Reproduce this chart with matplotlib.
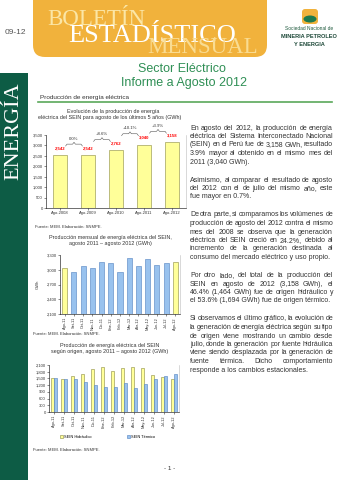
import matplotlib
matplotlib.use("Agg")
import matplotlib.pyplot as plt
from matplotlib.patches import FancyBboxPatch, Rectangle, Ellipse
from matplotlib.ticker import FuncFormatter, MultipleLocator

W, H = 339, 480
plt.rcParams['font.family'] = ['Liberation Sans', 'DejaVu Sans']

# --- datos ---
anios = ["Ago-2008", "Ago-2009", "Ago-2010", "Ago-2011", "Ago-2012"]
prod_agosto = [2542, 2542, 2762, 3040, 3158]
variacion = ["0.0%", "+8.6%", "+10.1%", "+3.9%"]

meses = ["Ago-11", "Set-11", "Oct-11", "Nov-11", "Dic-11", "Ene-12", "Feb-12",
         "Mar-12", "Abr-12", "May-12", "Jun-12", "Jul-12", "Ago-12"]
prod_mensual = [3040, 2947, 3074, 3031, 3148, 3128, 2960, 3249, 3084, 3213, 3096, 3136, 3158]
hidraulico = [1520, 1490, 1620, 1680, 1935, 2030, 1850, 1975, 1990, 1965, 1640, 1545, 1464]
termico = [1520, 1457, 1454, 1351, 1213, 1098, 1110, 1274, 1094, 1248, 1456, 1591, 1694]

parrafos = [
    ["En agosto del 2012, la producción de energía",
     "eléctrica del Sistema Interconectado Nacional",
     "(SEIN) en el Perú fue de 3,158 GWh, resultado",
     "3.9% mayor al obtenido en el mismo mes del",
     "2011 (3,040 GWh)."],
    ["Asimismo, al comparar el resultado de agosto",
     "del 2012 con el de julio del mismo año, este",
     "fue mayor en 0.7%."],
    ["De otra parte, si comparamos los volúmenes de",
     "producción de agosto del 2012 contra el mismo",
     "mes del 2008 se observa que la generación",
     "eléctrica del SEIN creció en 24.2%, debido al",
     "incremento de la generación destinada al",
     "consumo del mercado eléctrico y uso propio."],
    ["Por otro lado, del total de la producción del",
     "SEIN en agosto de 2012 (3,158 GWh), el",
     "46.4% (1,464 GWh) fue de origen hidráulico y",
     "el 53.6% (1,694 GWh) fue de origen térmico."],
    ["Si observamos el último gráfico, la evolución de",
     "la generación de energía eléctrica según su tipo",
     "de origen viene mostrando un cambio desde",
     "julio, donde la generación por fuente hidráulica",
     "viene siendo desplazada por la generación de",
     "fuente térmica. Dicho comportamiento",
     "responde a los cambios estacionales."],
]

AMARILLO = "#ffff99"
AZUL = "#99c2ee"
TXT = "#333333"
VERDE = "#2f8f55"
fuente = "Fuente: MEM. Elaboración: SNMPE."

fig = plt.figure(figsize=(W / 100, H / 100), dpi=100)
rend = fig.canvas.get_renderer()

bg = fig.add_axes([0, 0, 1, 1])
bg.set_xlim(0, W)
bg.set_ylim(H, 0)
bg.axis("off")

# cabecera
bg.add_patch(FancyBboxPatch((33, -12), 234, 69, boxstyle="round,pad=0,rounding_size=12",
                            fc="#f1b23c", ec="none"))
bg.text(47, 25, "BOLETÍN", family="Liberation Serif", fontsize=16.5, color="#fbe6a6", va="baseline")
bg.text(68, 42, "ESTADÍSTICO", family="Liberation Serif", fontsize=19, color="white", va="baseline")
bg.text(147, 53, "MENSUAL", family="Liberation Serif", fontsize=16.5, color="#f9dc92", va="baseline")
bg.text(5, 32, "09-12", fontsize=6, color="#555555", va="center")

# logo
bg.add_patch(FancyBboxPatch((302, 9), 16, 15, boxstyle="round,pad=0,rounding_size=3", fc="#f1b23c", ec="none"))
bg.add_patch(Ellipse((310, 19), 13, 7, fc="#1e7a4e", ec="none"))
bg.text(309, 29, "Sociedad Nacional de", fontsize=3.5, color="#1f5a3e", ha="center", va="center")
bg.text(309, 37, "MINERIA PETROLEO", fontsize=4.1, color="#1f4a3a", ha="center", va="center", weight="bold")
bg.text(309, 44, "Y ENERGIA", fontsize=4.1, color="#1f4a3a", ha="center", va="center", weight="bold")

# banda lateral
bg.add_patch(Rectangle((0, 73), 28, H - 73, fc="#0d5c45", ec="none"))
bg.text(14, 131, "ENERGÍA", family="Liberation Serif", fontsize=16, color="white",
        rotation=90, ha="center", va="center")

bg.text(182, 69, "Sector Eléctrico", fontsize=9, color=VERDE, ha="center", va="center")
bg.text(184, 83, "Informe a Agosto 2012", fontsize=9, color=VERDE, ha="center", va="center")
bg.text(40, 97, "Producción de energía eléctrica", fontsize=4.6, color=TXT, va="center")
bg.plot([38, 332], [102, 102], color="#5aa85a", lw=1.2)


def text_width(s, size):
    t = fig.text(0, 0, s, fontsize=size)
    w = t.get_window_extent(rend).width
    t.remove()
    return w


def justificado(lineas, x0, x1, y0, size, lead):
    for i, linea in enumerate(lineas):
        y = y0 + i * lead
        palabras = linea.split()
        if i == len(lineas) - 1:
            bg.text(x0, y, linea, fontsize=size, color=TXT, va="center")
            continue
        anchos = [text_width(p, size) for p in palabras]
        gap = max((x1 - x0 - sum(anchos)) / (len(palabras) - 1), 1.0)
        x = x0
        for p, a in zip(palabras, anchos):
            bg.text(x, y, p, fontsize=size, color=TXT, va="center")
            x += a + gap


y = 128
for par in parrafos:
    justificado(par, 190, 333, y, 5, 8.5)
    y += len(par) * 8.5 + 9.5


def estilo(ax):
    ax.spines["top"].set_visible(False)
    ax.spines["right"].set_color("#bbbbbb")
    for s in ["left", "bottom", "right"]:
        ax.spines[s].set_linewidth(0.4)
    ax.tick_params(labelsize=3, length=1.2, width=0.4, pad=1, colors=TXT)
    ax.yaxis.set_major_formatter(FuncFormatter(lambda v, p: f"{v:,.0f}"))
    ax.set_facecolor("none")


def ax_px(x0, x1, ytop, ybot):
    return fig.add_axes([x0 / W, 1 - ybot / H, (x1 - x0) / W, (ybot - ytop) / H])


# grafico 1
bg.text(113, 112, "Evolución de la producción de energía", fontsize=3.9, color=TXT, ha="center", va="center")
bg.text(110, 118, "eléctrica del SEIN para agosto de los últimos 5 años (GWh)", fontsize=3.9,
        color=TXT, ha="center", va="center")
ax1 = ax_px(46, 186, 135, 208)
estilo(ax1)
x1 = range(len(anios))
ax1.bar(x1, prod_agosto, width=0.5, color=AMARILLO, edgecolor="#8a8a40", linewidth=0.4)
ax1.set_xlim(-0.5, len(anios) - 0.5)
ax1.set_ylim(0, 3500)
ax1.yaxis.set_major_locator(MultipleLocator(500))
ax1.set_xticks(list(x1))
ax1.set_xticklabels(anios)
for i, v in enumerate(prod_agosto):
    ax1.annotate(f"{v:,}", (i, v), xytext=(0, 5), textcoords="offset points", ha="center",
                 va="center", fontsize=3.1, color="red", weight="bold", annotation_clip=False)
for i, lab in enumerate(variacion):
    top = max(prod_agosto[i], prod_agosto[i + 1]) + 520
    xa, xb, xm = i + 0.2, i + 0.8, i + 0.5
    h = 90
    ax1.plot([xa, xa + 0.05, xm - 0.05, xm, xm + 0.05, xb - 0.05, xb],
             [top - h, top, top, top + h, top, top, top - h],
             color="#555555", lw=0.4, clip_on=False)
    ax1.text(xm, top + 260, lab, fontsize=3.1, color=TXT, ha="center", va="center", clip_on=False)
bg.text(35, 227, fuente, fontsize=3, color=TXT, va="center")

# grafico 2
bg.text(110, 237, "Producción mensual de energía eléctrica del SEIN,", fontsize=3.9, color=TXT,
        ha="center", va="center")
bg.text(110, 244, "agosto 2011 – agosto 2012 (GWh)", fontsize=3.9, color=TXT, ha="center", va="center")
ax2 = ax_px(60, 180, 255, 314)
estilo(ax2)
x2 = range(len(meses))
colores = [AMARILLO if m.startswith("Ago") else AZUL for m in meses]
bordes = ["#8a8a40" if m.startswith("Ago") else "#4f7fbf" for m in meses]
ax2.bar(x2, prod_mensual, width=0.55, color=colores, edgecolor=bordes, linewidth=0.4)
ax2.set_xlim(-0.5, len(meses) - 0.5)
ax2.set_ylim(2100, 3300)
ax2.yaxis.set_major_locator(MultipleLocator(300))
ax2.set_xticks(list(x2))
ax2.set_xticklabels(meses, rotation=90)
ax2.tick_params(axis="x", labelsize=2.8)
ax2.set_ylabel("GWh", fontsize=3, color=TXT)
ax2.yaxis.set_label_coords(-20 / 120, 0.5)
bg.text(33, 334, fuente, fontsize=3, color=TXT, va="center")

# grafico 3
bg.text(110, 345, "Producción de energía eléctrica del SEIN", fontsize=3.9, color=TXT,
        ha="center", va="center")
bg.text(110, 351, "según origen, agosto 2011 – agosto 2012 (GWh)", fontsize=3.9, color=TXT,
        ha="center", va="center")
ax3 = ax_px(49, 179, 365, 412)
estilo(ax3)
x3 = list(range(len(meses)))
ax3.bar([i - 0.16 for i in x3], hidraulico, width=0.3, color=AMARILLO, edgecolor="#8a8a40",
        linewidth=0.4, label="SEIN Hidráulico")
ax3.bar([i + 0.16 for i in x3], termico, width=0.3, color=AZUL, edgecolor="#4f7fbf",
        linewidth=0.4, label="SEIN Térmico")
ax3.set_xlim(-0.5, len(meses) - 0.5)
ax3.set_ylim(0, 2100)
ax3.yaxis.set_major_locator(MultipleLocator(300))
ax3.set_xticks(x3)
ax3.set_xticklabels(meses, rotation=90)
ax3.tick_params(axis="x", labelsize=2.8)
ax3.legend(loc="center", bbox_to_anchor=(0.45, -0.53), ncol=2, frameon=False, fontsize=2.8,
           columnspacing=9, handlelength=0.8, handleheight=0.8, handletextpad=0.4)
bg.text(33, 450, fuente, fontsize=3, color=TXT, va="center")

bg.text(170, 468, "- 1 -", fontsize=4.5, color=TXT, ha="center", va="center")

fig.savefig("out.png", dpi=100)
